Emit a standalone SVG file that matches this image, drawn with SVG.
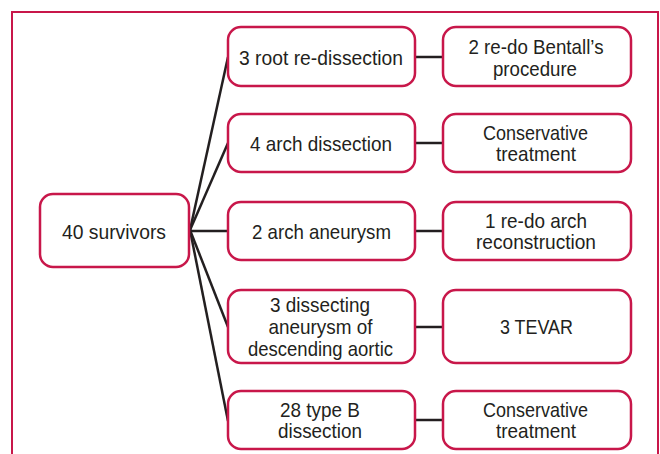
<svg xmlns="http://www.w3.org/2000/svg" width="660" height="454" viewBox="0 0 660 454">
<style>
.box{fill:#fff;stroke:#c8174a;stroke-width:2.5}
.frame{fill:none;stroke:#c8174a;stroke-width:2}
.ln{stroke:#231f20;stroke-width:2.5;fill:none}
text{font-family:"Liberation Sans",Arial,sans-serif;font-size:21px;fill:#231f20;text-anchor:middle}
</style>
<rect width="660" height="454" fill="#fff"/>
<path class="frame" d="M12,460 V12 H658 V460"/>
<g id="connectors">
<line class="ln" x1="190" y1="230" x2="228" y2="57"/>
<line class="ln" x1="190" y1="230" x2="228" y2="143"/>
<line class="ln" x1="190" y1="231" x2="228" y2="231"/>
<line class="ln" x1="190" y1="230" x2="228" y2="327"/>
<line class="ln" x1="190" y1="230" x2="228" y2="421"/>
<line class="ln" x1="415" y1="57" x2="443" y2="57"/>
<line class="ln" x1="415" y1="143" x2="443" y2="143"/>
<line class="ln" x1="415" y1="231" x2="443" y2="231"/>
<line class="ln" x1="415" y1="327" x2="443" y2="327"/>
<line class="ln" x1="415" y1="420" x2="443" y2="420"/>
</g>
<g id="survivors"><rect class="box" x="40" y="194" width="149" height="73" rx="13"/><text x="114" y="239" textLength="104" lengthAdjust="spacingAndGlyphs">40 survivors</text></g>
<g id="root"><rect class="box" x="228" y="27" width="187" height="59" rx="13"/><text x="321" y="65" textLength="164" lengthAdjust="spacingAndGlyphs">3 root re-dissection</text></g>
<g id="bentall"><rect class="box" x="443" y="27" width="188" height="59" rx="13"/><text x="536" y="54" textLength="135" lengthAdjust="spacingAndGlyphs">2 re-do Bentall’s</text><text x="535" y="76" textLength="84" lengthAdjust="spacingAndGlyphs">procedure</text></g>
<g id="archdiss"><rect class="box" x="228" y="114" width="187" height="58" rx="13"/><text x="321" y="151" textLength="142" lengthAdjust="spacingAndGlyphs">4 arch dissection</text></g>
<g id="cons1"><rect class="box" x="443" y="114" width="188" height="58" rx="13"/><text x="535.5" y="140" textLength="105" lengthAdjust="spacingAndGlyphs">Conservative</text><text x="536" y="161" textLength="80" lengthAdjust="spacingAndGlyphs">treatment</text></g>
<g id="archaneu"><rect class="box" x="228" y="202" width="187" height="58" rx="13"/><text x="321.5" y="239" textLength="139" lengthAdjust="spacingAndGlyphs">2 arch aneurysm</text></g>
<g id="redoarch"><rect class="box" x="443" y="202" width="188" height="58" rx="13"/><text x="536" y="228" textLength="102" lengthAdjust="spacingAndGlyphs">1 re-do arch</text><text x="536" y="249" textLength="120" lengthAdjust="spacingAndGlyphs">reconstruction</text></g>
<g id="descending"><rect class="box" x="228" y="290" width="187" height="73" rx="13"/><text x="320" y="312" textLength="100" lengthAdjust="spacingAndGlyphs">3 dissecting</text><text x="320.5" y="334" textLength="104" lengthAdjust="spacingAndGlyphs">aneurysm of</text><text x="320.5" y="356" textLength="145" lengthAdjust="spacingAndGlyphs">descending aortic</text></g>
<g id="tevar"><rect class="box" x="443" y="290" width="188" height="73" rx="13"/><text x="536.5" y="334" textLength="73" lengthAdjust="spacingAndGlyphs">3 TEVAR</text></g>
<g id="typeb"><rect class="box" x="228" y="391" width="187" height="58" rx="13"/><text x="320" y="417" textLength="80" lengthAdjust="spacingAndGlyphs">28 type B</text><text x="320" y="438" textLength="84" lengthAdjust="spacingAndGlyphs">dissection</text></g>
<g id="cons2"><rect class="box" x="443" y="391" width="188" height="58" rx="13"/><text x="535.5" y="417" textLength="105" lengthAdjust="spacingAndGlyphs">Conservative</text><text x="536" y="438" textLength="80" lengthAdjust="spacingAndGlyphs">treatment</text></g>
</svg>
